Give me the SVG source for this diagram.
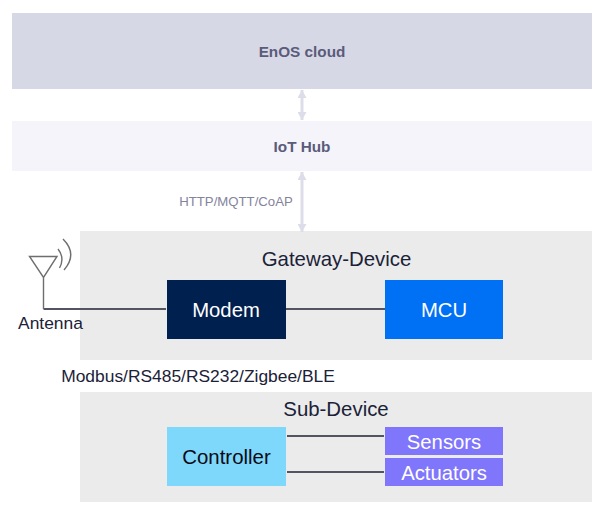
<svg xmlns="http://www.w3.org/2000/svg" width="606" height="510" viewBox="0 0 606 510">
<defs>
<marker id="a" markerWidth="9" markerHeight="9" refX="8" refY="4.5" orient="auto-start-reverse" markerUnits="userSpaceOnUse"><path d="M0 0L8 4.5L0 9Z" fill="#dcdde9"/></marker>
</defs>
<style>
text{font-family:"Liberation Sans",Arial,sans-serif;text-anchor:middle}
.h{font-size:15.300px;font-weight:700;fill:#5b5b7b}
.l{font-size:20.400px;fill:#1b2238}
.w{font-size:20.300px;fill:#fff}
.k{font-size:20.400px;fill:#0a0a14}
.c{stroke:#52545f;stroke-width:2;fill:none}
.d{stroke:#dcdde9;stroke-width:3;fill:none;marker-start:url(#a);marker-end:url(#a)}
.t{stroke:#6e6e6e;stroke-width:1.4;fill:none}
</style>
<rect width="606" height="510" fill="#fff"/>
<g id="cloud"><rect x="12" y="13" width="580" height="76" fill="#d7d8e6"/><text class="h" x="302" y="57">EnOS cloud</text></g>
<g id="hub"><rect x="12" y="121" width="580" height="50" fill="#f4f4fa"/><text class="h" x="302" y="151.500">IoT Hub</text></g>
<g id="gateway"><rect x="80" y="231" width="512" height="129" fill="#ebebeb"/><text class="l" x="336.500" y="266">Gateway-Device</text></g>
<g id="sub"><rect x="80" y="392" width="512" height="110" fill="#ebebeb"/><text class="l" x="336" y="416">Sub-Device</text></g>
<g id="connectors">
<path class="d" d="M302 90V120"/>
<path class="d" d="M302 172V232"/>
<path class="c" d="M43.500 309H166"/>
<path class="c" d="M286 309H385"/>
<path class="c" d="M287 436H384"/>
<path class="c" d="M287 472H384"/>
</g>
<g id="antenna">
<path class="t" d="M29.500 256.500H57L43.500 277.500ZM43.500 277.500V309"/>
<path class="t" d="M58 249Q65 258 59.500 268"/>
<path class="t" d="M63 239Q78 254 64 270"/>
<text x="50.500" y="329" style="font-size:17.400px;fill:#1b2238">Antenna</text>
</g>
<g id="modem"><rect x="167" y="280" width="119" height="59" fill="#00204f"/><text class="w" x="226" y="316.500">Modem</text></g>
<g id="mcu"><rect x="385" y="280" width="118" height="59" fill="#0070f5"/><text class="w" x="444" y="316.500">MCU</text></g>
<g id="controller"><rect x="167" y="427" width="119" height="59" fill="#7dd8fb"/><text class="k" x="226.500" y="463.500">Controller</text></g>
<g id="sensors"><rect x="385" y="427" width="118" height="28" fill="#7f76fb"/><text class="w" x="444" y="448.500">Sensors</text></g>
<g id="actuators"><rect x="385" y="458" width="118" height="28" fill="#7f76fb"/><text class="w" x="444" y="480">Actuators</text></g>
<text x="236" y="206" style="font-size:13.200px;fill:#83839c">HTTP/MQTT/CoAP</text>
<text x="198" y="382" style="font-size:17.400px;fill:#1b2238">Modbus/RS485/RS232/Zigbee/BLE</text>
</svg>
